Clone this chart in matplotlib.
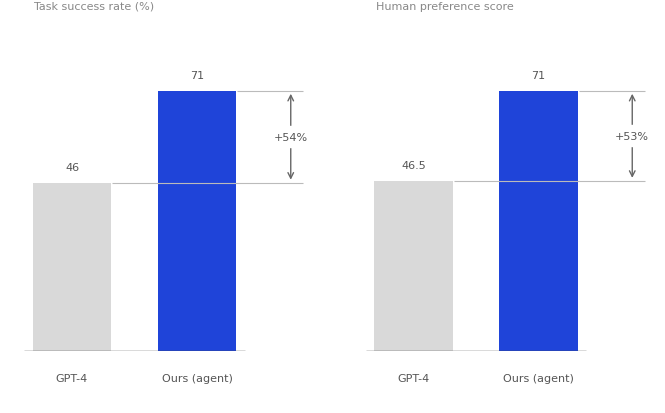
import matplotlib
matplotlib.use("Agg")
import matplotlib.pyplot as plt

# two panels, baseline vs ours
titles = ["Task success rate (%)", "Human preference score"]
categories = ["GPT-4", "Ours (agent)"]
left_vals = [46.0, 71.0]
right_vals = [46.5, 71.0]
gains = ["+54%", "+53%"]

gray = "#d9d9d9"
blue = "#1f44d9"
txt = "#555555"

fig = plt.figure(figsize=(6.65, 4.14), dpi=100)
W, H = 665., 414.


def panel(x0, vals, title, gain):
    # axes placed in pixel units (left, bottom, width, height)
    ax = fig.add_axes([x0 / W, 62 / H, 285 / W, 293 / H])
    ax.set_xlim(-0.38, 1.9)
    ax.set_ylim(0, 80)
    ax.axis("off")
    ax.bar([0, 1], vals, width=0.63, color=[gray, blue], zorder=2)
    ax.hlines(0, -0.38, 1.38, color="#444444", lw=1.0, zorder=3)
    for i, v in enumerate(vals):
        ax.text(i, v + 3, f"{v:g}", ha="center", va="bottom", fontsize=8, color=txt)
        ax.text(i, -6, categories[i], ha="center", va="top", fontsize=8, color=txt)
    # reference lines to the bracket
    ax.hlines(vals[0], 0.32, 1.85, color="#bbbbbb", lw=0.8, zorder=3)
    ax.hlines(vals[1], 1.32, 1.85, color="#bbbbbb", lw=0.8, zorder=3)
    ax.annotate("", xy=(1.75, vals[1]), xytext=(1.75, vals[0]),
                arrowprops=dict(arrowstyle="<->", color="#666666", lw=1.0))
    ax.text(1.75, (vals[0] + vals[1]) / 2, gain, ha="center", va="center",
            fontsize=8, color=txt, backgroundcolor="white")
    fig.text((x0 + 10) / W, 0.996, title, ha="left", va="top", fontsize=8, color="#888888")
    return ax


panel(24.5, left_vals, titles[0], gains[0])
panel(366, right_vals, titles[1], gains[1])

fig.savefig("out.png", dpi=100)
